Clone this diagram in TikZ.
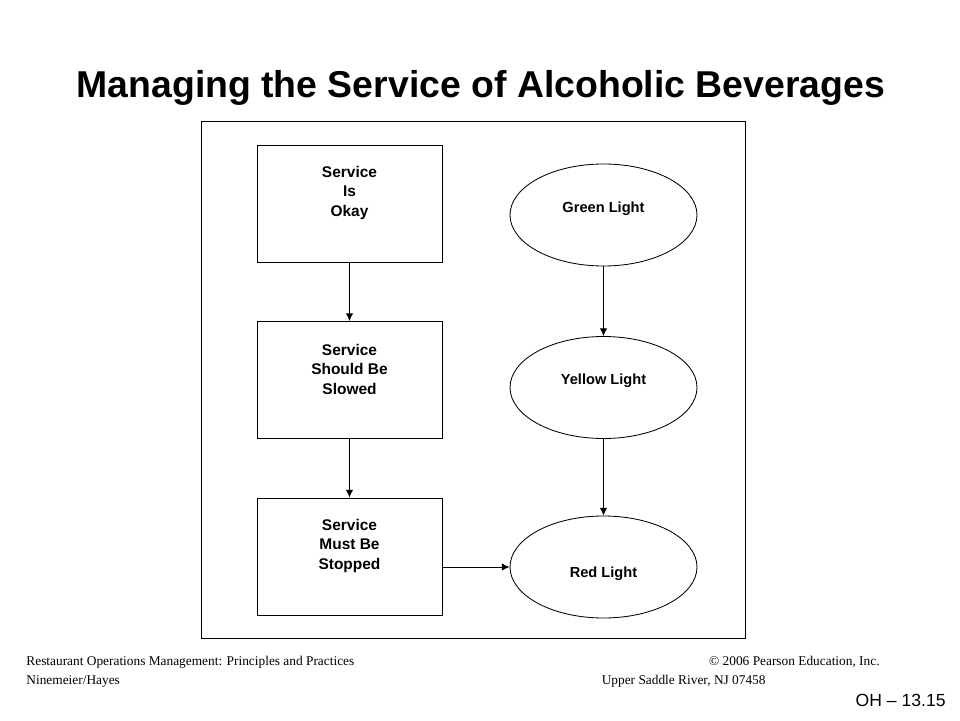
\documentclass[tikz,border=0pt]{standalone}
\usepackage{fontspec}
\setmainfont{Liberation Sans}
\newfontfamily\footfont{Liberation Serif}
\usetikzlibrary{shapes.geometric,positioning,arrows.meta}

\tikzset{
  stage/.style={draw,rectangle,minimum width=4.625cm,minimum height=2.925cm},
  light/.style={draw,ellipse,minimum width=4.675cm,minimum height=2.55cm,font=\bfseries\fontsize{10.4}{12}\selectfont},
  stagetext/.style={align=center,font=\bfseries\fontsize{11}{14}\selectfont,yshift=0.27cm},
  flow/.style={-{Latex[length=1.9mm,width=1.8mm]}},
  foot/.style={inner sep=0pt,font=\footfont\fontsize{9.5}{11}\selectfont}
}

\begin{document}
\begin{tikzpicture}[line width=0.6pt]
\useasboundingbox (0,0) rectangle (24,18);

\node[font=\bfseries\fontsize{26.6}{30}\selectfont] (title) at (12.02,15.8) {Managing the Service of Alcoholic Beverages};

\node[draw,rectangle,minimum width=13.6cm,minimum height=12.925cm] (frame) at (11.825,8.5125) {};

\node[stage, label={[stagetext]center:Service\\Is\\Okay}] (okay) at (8.7375,12.9125) {};
\node[stage, label={[stagetext]center:Service\\Should Be\\Slowed}] (slowed) at (8.7375,8.5) {};
\node[stage, label={[stagetext]center:Service\\Must Be\\Stopped}] (stopped) at (8.7375,4.0875) {};

\node[light, text depth=0.4cm] (green) at (15.0875,12.625) {Green Light};
\node[light, text depth=0.4cm] (yellow) at (15.0875,8.3125) {Yellow Light};
\node[light, text height=0.6cm] (red) at (15.0875,3.825) {Red Light};

\draw[flow] (okay) -- (slowed);
\draw[flow] (slowed) -- (stopped);
\draw[flow] (green) -- (yellow);
\draw[flow] (yellow) -- (red);
\draw[flow] (stopped.east |- red.west) -- (red.west);

\node[foot, anchor=west] (book) at (0.65,1.45) {Restaurant Operations Management: Principles and Practices};
\node[foot, anchor=west] (authors) at (0.65,0.97) {Ninemeier/Hayes};
\node[foot, anchor=east] (copy) at (22,1.45) {© 2006 Pearson Education, Inc.};
\node[foot, anchor=east] (place) at (19.15,0.97) {Upper Saddle River, NJ 07458};
\node[anchor=east, inner sep=0pt, font=\fontsize{12.5}{15}\selectfont] (slide) at (23.65,0.5) {OH – 13.15};
\end{tikzpicture}
\end{document}
